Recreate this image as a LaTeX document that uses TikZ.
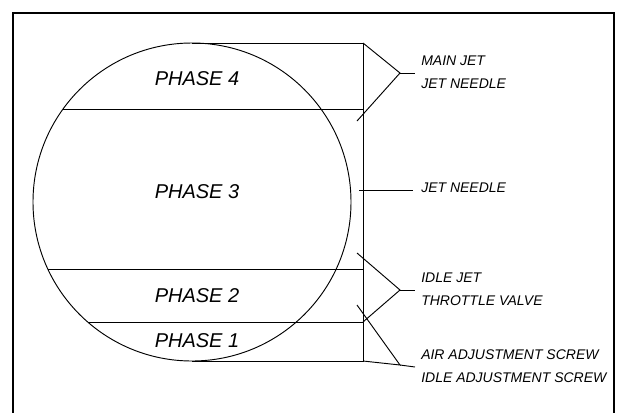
\documentclass[tikz,border=0pt]{standalone}
\usepackage{fontspec}
\setmainfont{Liberation Sans}
\usetikzlibrary{positioning,calc}

\begin{document}
\begin{tikzpicture}[x=0.75pt,y=-0.75pt,
      fase/.style={font=\fontsize{15}{18}\selectfont\itshape,inner sep=0pt},
      etiqueta/.style={font=\fontsize{10.5}{12}\selectfont\itshape,anchor=west,inner sep=0pt},
      linea/.style={line width=0.7pt},
      marco/.style={line width=1.8pt}]
    \clip (0,0) rectangle (619,412);
    \draw[marco] (13,13) rectangle (614,440);
    % circulo y franjas
    \draw[linea] (192,202) circle[radius=119.25pt];
    \coordinate (c4) at (363,43);
    \coordinate (c3) at (363,109);
    \coordinate (c2) at (363,269);
    \coordinate (c1) at (363,322);
    \coordinate (c0) at (363,361);
    \draw[linea] (192,43) -- (c4) -- (c0) -- (192,361);
    \draw[linea] (63,109) -- (c3);
    \draw[linea] (48,269) -- (c2);
    \draw[linea] (88,322) -- (c1);
    \node[fase] (f4) at (197,79) {PHASE 4};
    \node[fase] (f3) at (197,192) {PHASE 3};
    \node[fase] (f2) at (197,296) {PHASE 2};
    \node[fase] (f1) at (197,341) {PHASE 1};
    % etiquetas
    \node[etiqueta] (mainjet) at (421,61) {MAIN JET};
    \node[etiqueta] (agujaA) at (421,84) {JET NEEDLE};
    \node[etiqueta] (agujaB) at (421,188) {JET NEEDLE};
    \node[etiqueta] (idlejet) at (421,278) {IDLE JET};
    \node[etiqueta] (valvula) at (421,301) {THROTTLE VALVE};
    \node[etiqueta] (tornilloA) at (421,355) {AIR ADJUSTMENT SCREW};
    \node[etiqueta] (tornilloB) at (421,378) {IDLE ADJUSTMENT SCREW};
    \coordinate (h1) at (400,73);
    \coordinate (h2) at (400,290);
    \coordinate (h3) at (400,365);
    \draw[linea] (c4) -- (h1) -- (357,121);
    \draw[linea] (h1) -- (415,73);
    \draw[linea] (359,190) -- (413,190);
    \draw[linea] (357,253) -- (h2) -- (c1);
    \draw[linea] (h2) -- (415,290);
    \draw[linea] (357,305) -- (h3) -- (c0);
    \draw[linea] (h3) -- (415,367);
  \end{tikzpicture}
\end{document}
